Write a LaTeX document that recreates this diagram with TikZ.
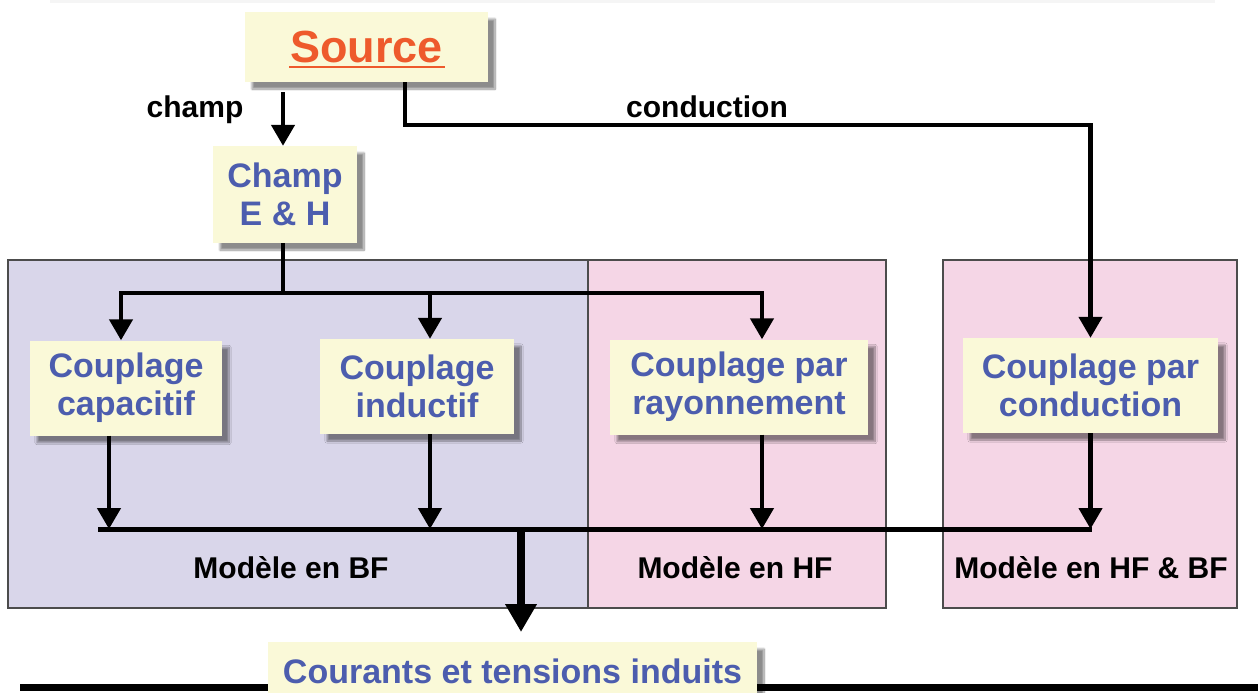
\documentclass[tikz,border=0pt]{standalone}
\usepackage{fontspec}
\setmainfont{Liberation Sans}
\usetikzlibrary{arrows.meta,shadows.blur}
\definecolor{cream}{HTML}{FAF9D8}
\definecolor{bluetxt}{HTML}{4C5DAE}
\definecolor{srcorange}{HTML}{EE5A2C}
\definecolor{lav}{HTML}{D9D6EA}
\definecolor{pinkbg}{HTML}{F5D6E6}
\begin{document}
\begin{tikzpicture}[x=1pt,y=-1pt,
  ybox/.style={fill=cream, inner sep=0pt, align=center,
    font=\fontsize{34}{38}\selectfont\bfseries, text=bluetxt,
    blur shadow={shadow xshift=7pt, shadow yshift=-7pt, shadow blur steps=10, shadow opacity=45}},
  region/.style={draw=black!70, line width=1.2pt},
  conn/.style={line width=4.5pt},
  arr/.style={conn, -{Triangle[width=23pt,length=21pt]}},
  lbl/.style={font=\fontsize{30}{32}\selectfont\bfseries, inner sep=0pt}
]
\useasboundingbox (0,0) rectangle (1258,693);
\fill[black!4] (50,0) rectangle (1215,3);

% regions
\path[region, fill=lav] (8,260) rectangle (588,608);
\path[region, fill=pinkbg] (588,260) rectangle (886,608);
\path[region, fill=pinkbg] (943,260) rectangle (1237,608);

% boxes
\node[ybox, minimum width=243pt, minimum height=70pt, text=srcorange,
      font=\fontsize{45}{48}\selectfont\bfseries] (src) at (366.5,47) {Source};
\draw[srcorange, line width=2.5pt] (289,67) -- (445,67);
\node[ybox, minimum width=144pt, minimum height=97pt] (champ) at (285,194.5) {Champ\\E \& H};
\node[ybox, minimum width=192pt, minimum height=95pt] (cap) at (126,388) {Couplage\\capacitif};
\node[ybox, minimum width=194pt, minimum height=95pt] (ind) at (417,386.5) {Couplage\\inductif};
\node[ybox, minimum width=258pt, minimum height=95pt] (ray) at (739,387) {Couplage par\\rayonnement};
\node[ybox, minimum width=255pt, minimum height=95pt] (cond) at (1090.5,385.5) {Couplage par\\conduction};

% labels
\node[lbl] (lchamp) at (195,110) {champ};
\node[lbl] (lcond) at (707,107) {conduction};
\node[lbl] (lbf) at (291,568) {Modèle en BF};
\node[lbl] (lhf) at (735,568) {Modèle en HF};
\node[lbl] (lhfbf) at (1091,568) {Modèle en HF \& BF};

% upper connectors
\draw[arr] ([xshift=-83.5pt,yshift=-10pt]src.south) -- ([xshift=-2pt]champ.north);
\coordinate (kc) at (1090.5,125);
\draw[arr] ([xshift=38.5pt]src.south) |- (kc) -- (cond.north);
\coordinate (jc) at (283,293);
\draw[conn] ([xshift=-2pt]champ.south) -- (jc);
\draw[arr] (jc) -| ([xshift=-5pt]cap.north);
\draw[arr] (jc) -| ([xshift=13pt]ind.north);
\draw[arr] (jc) -| ([xshift=23pt]ray.north);

% lower bus
\coordinate (busL) at (98,529);
\coordinate (busR) at (1092,529);
\coordinate (b1) at (109,529);
\coordinate (b2) at (430,529);
\coordinate (b3) at (762,529);
\coordinate (b4) at (1090.5,529);
\coordinate (bm) at (521,529);
\coordinate (te) at (521,632);
\draw[line width=5pt] (busL) -- (busR);
\draw[arr] (cap.south -| b1) -- (b1);
\draw[arr] (ind.south -| b2) -- (b2);
\draw[arr] (ray.south -| b3) -- (b3);
\draw[arr] (cond.south -| b4) -- (b4);
\draw[line width=8pt, -{Triangle[width=30pt,length=28pt]}] (bm) -- (te);

% bottom
\coordinate (bl) at (20,687);
\coordinate (br) at (1258,687);
\node[ybox, minimum width=489pt, minimum height=58pt] (cour) at (512.5,671) {Courants et tensions induits};
\draw[line width=7pt] (bl) -- (cour.west |- bl);
\draw[line width=7pt] (cour.east |- bl) -- (br);
\end{tikzpicture}
\end{document}
